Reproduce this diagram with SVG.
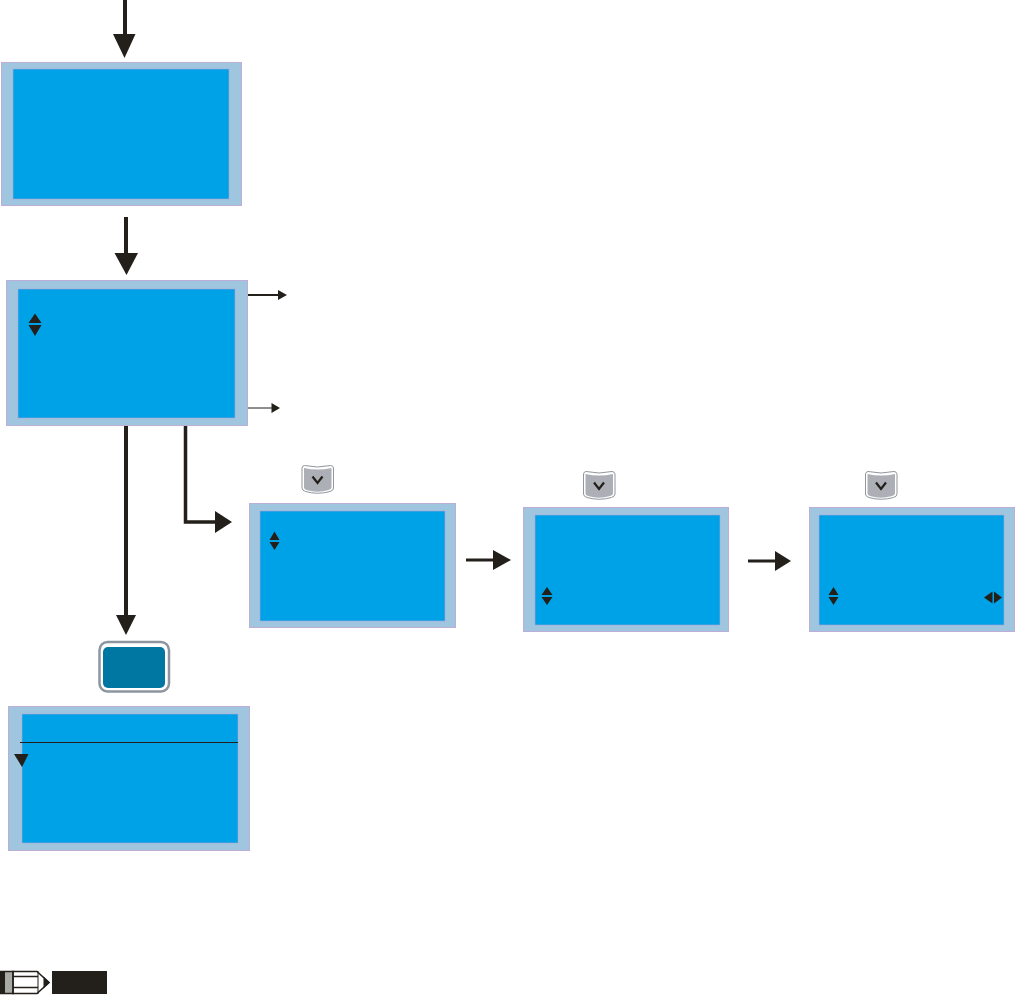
<svg xmlns="http://www.w3.org/2000/svg" width="1015" height="995" viewBox="0 0 1015 995">
<style>
.outer{fill:#9fc6de;stroke:#bcaed6;stroke-width:1}
.inner{fill:#00a2e7;stroke:#b5a0d8;stroke-width:.6}
.ln{fill:none;stroke:#231f1a}
.hd{fill:#231f1a}
.key{fill:#adafb6}
.keyo{fill:#fff;stroke:#8f969c;stroke-width:1}
.chev{fill:none;stroke:#231f1a;stroke-width:2.200}
</style>
<defs>
<g id="k">
<path class="keyo" d="M.5 3Q1 .5 3 .5Q16 3.500 29 .5Q31.500 .5 32 3V23Q32 25.500 28.500 26.500Q16 30 4 26.500Q.5 25.500 .5 23Z"/>
<path class="key" d="M2.500 3Q16 6 30 3V22.500Q30 24 27 25Q16 28.500 5 25Q2.500 24 2.500 22.500Z"/>
<path class="chev" d="M11 11.500L16 18L21 11.500"/>
</g>
</defs>
<g id="connectors">
<path class="ln" stroke-width="4" d="M125 0V36"/><path class="hd" d="M113 34H135.500L124.500 58Z"/>
<path class="ln" stroke-width="4" d="M126 217V254"/><path class="hd" d="M114.500 253H138L126.500 275Z"/>
<path class="ln" stroke-width="2" d="M248 295H279"/><path class="hd" d="M278 290L287 295L278 300Z"/>
<path class="ln" stroke-width="1" d="M248 408H272"/><path class="hd" d="M271.500 403L280 408L271.500 413Z"/>
<path class="ln" stroke-width="4" d="M126 426V616"/><path class="hd" d="M116 615H136L126 635Z"/>
<path class="ln" stroke-width="3.500" d="M185.500 426V522H216"/><path class="hd" d="M215 511L232 522L215 533Z"/>
<path class="ln" stroke-width="3" d="M466 560H494"/><path class="hd" d="M493 550L511 560L493 570Z"/>
<path class="ln" stroke-width="3" d="M748 561H776"/><path class="hd" d="M775 551L791 561L775 571Z"/>
</g>
<g id="screen-1"><rect class="outer" x="1.500" y="62.500" width="240" height="143"/><rect class="inner" x="13" y="69" width="216" height="130"/></g>
<g id="screen-2"><rect class="outer" x="6.500" y="280.500" width="241" height="145"/><rect class="inner" x="18" y="289" width="217" height="129"/>
<path class="hd" d="M35 313.500L41.500 323H28.500ZM28.500 325H41.500L35 336Z"/></g>
<g id="screen-3"><use href="#k" x="301.500" y="465"/><rect class="outer" x="249.500" y="503.500" width="206" height="124"/><rect class="inner" x="260" y="511" width="185" height="110"/>
<path class="hd" d="M274.500 531.500L279.500 540H269.500ZM269.500 542H279.500L274.500 550Z"/></g>
<g id="screen-4"><use href="#k" x="583" y="471"/><rect class="outer" x="523.500" y="507.500" width="205" height="124"/><rect class="inner" x="535" y="515" width="185" height="110"/>
<path class="hd" d="M547 587L552.500 595H541.500ZM541.500 597H552.500L547 605Z"/></g>
<g id="screen-5"><use href="#k" x="865" y="471"/><rect class="outer" x="809.500" y="507.500" width="205" height="124"/><rect class="inner" x="819" y="515" width="185" height="110"/>
<path class="hd" d="M833.500 587L838.500 595H828.500ZM828.500 597H838.500L833.500 605ZM992.500 591.500V603.500L984 597.500ZM994 591.500L1002 597.500L994 603.500Z"/></g>
<g id="enter-key"><rect x="99.500" y="642" width="69.500" height="49.500" rx="8" fill="#fff" stroke="#8d959e" stroke-width="2.500"/><rect x="103" y="647" width="62" height="41" rx="5" fill="#0076a3"/></g>
<g id="screen-6"><rect class="outer" x="8.500" y="706.500" width="241" height="144"/><rect class="inner" x="22" y="714" width="216" height="129"/>
<path class="ln" stroke-width="1" d="M20 742.500H238"/><path class="hd" d="M14 754H28.500L22 767Z"/></g>
<g id="note">
<path d="M0 972H5V993H0Z" fill="#231f1a"/>
<path d="M5 972H13V993H5Z" fill="#a9aaa6"/>
<path d="M13 971.500H37L49 982.500L37 993.500H13Z" fill="#fff" stroke="#231f1a" stroke-width="1.500"/>
<path d="M0 971.500H14M0 993.500H14" class="ln" stroke-width="1.500"/>
<path class="ln" stroke-width="1.500" d="M13 976.500H38M13 987.500H38M13 971V994"/>
<path class="ln" stroke-width="1" d="M38 971V994"/>
<path class="hd" d="M43.500 976.500L50 982.500L43.500 988.500Z"/>
<rect x="52" y="971" width="55" height="23" fill="#231f1a"/>
</g>
</svg>
